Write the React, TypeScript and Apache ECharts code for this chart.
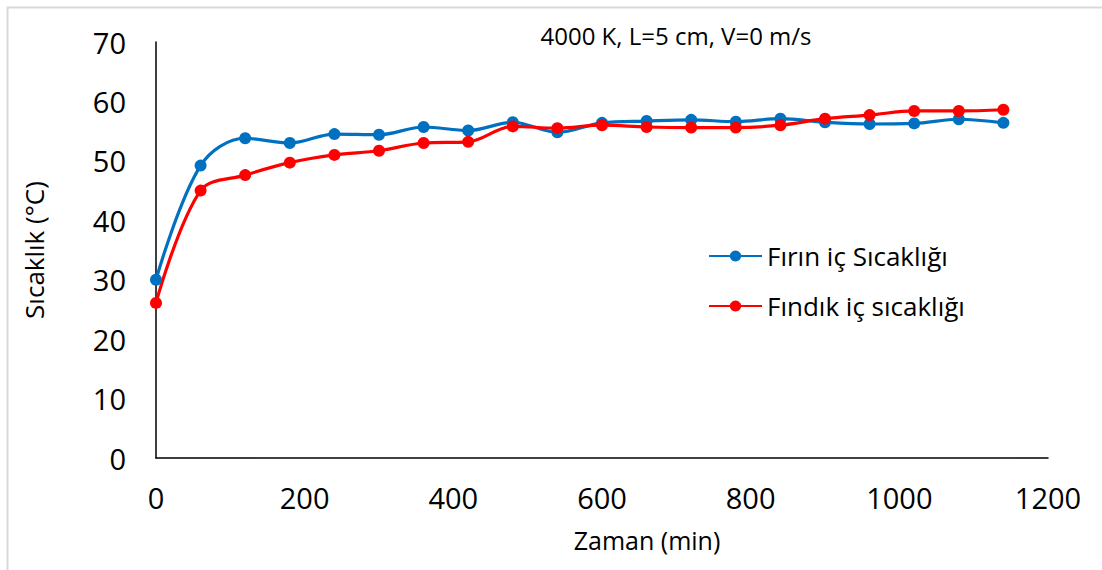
import React, { useEffect, useRef } from "react";
import * as echarts from "echarts";

// Time in minutes
const times = [0, 60, 120, 180, 240, 300, 360, 420, 480, 540, 600, 660, 720, 780, 840, 900, 960, 1020, 1080, 1140];

// Oven inner temperature (°C)
const firinIc = [30.0, 49.2, 53.8, 53.0, 54.5, 54.4, 55.7, 55.1, 56.5, 54.8, 56.4, 56.7, 56.9, 56.6, 57.1, 56.5, 56.2, 56.3, 57.0, 56.4];

// Hazelnut inner temperature (°C)
const findikIc = [26.1, 45.0, 47.6, 49.7, 51.0, 51.7, 53.0, 53.2, 55.8, 55.5, 56.0, 55.7, 55.6, 55.6, 56.0, 57.1, 57.7, 58.4, 58.4, 58.6];

const seriesNames = ["Fırın iç Sıcaklığı", "Fındık iç sıcaklığı"];
const seriesColors = ["#0070C0", "#FF0000"];

const chartTitle = "4000 K, L=5 cm, V=0 m/s";
const xTitle = "Zaman (min)";
const yTitle = "Sıcaklık (°C)";

const FONT = "'Open Sans', 'Noto Sans', sans-serif";

export default function App() {
  const ref = useRef<HTMLDivElement>(null);

  useEffect(() => {
    if (!ref.current) return;
    const chart = echarts.init(ref.current, undefined, { renderer: "svg" });
    const pair = (ys: number[]) => times.map((t, i) => [t, ys[i]]);
    const mkSeries = (idx: number, ys: number[]) => ({
      name: seriesNames[idx],
      type: "line",
      data: pair(ys),
      smooth: 0.35,
      symbol: "circle",
      symbolSize: 12,
      lineStyle: { color: seriesColors[idx], width: 3.2 },
      itemStyle: { color: seriesColors[idx] },
    });

    chart.setOption({
      animation: false,
      backgroundColor: "#ffffff",
      textStyle: { fontFamily: FONT },
      title: {
        text: chartTitle,
        left: 671,
        top: 18,
        textAlign: "center",
        textStyle: { fontFamily: FONT, fontSize: 24, fontWeight: "normal", color: "#000" },
      },
      grid: { left: 156, right: 54, top: 42, bottom: 112, containLabel: false },
      legend: {
        orient: "vertical",
        left: 703,
        top: 235,
        itemWidth: 53,
        itemHeight: 14,
        itemGap: 18,
        textStyle: { fontFamily: FONT, fontSize: 26, color: "#000", lineHeight: 32 },
        data: seriesNames,
      },
      xAxis: {
        type: "value",
        min: 0,
        max: 1200,
        interval: 200,
        axisLine: { show: true, lineStyle: { color: "#000", width: 1.5 } },
        axisTick: { show: false },
        splitLine: { show: false },
        axisLabel: {
          color: "#000",
          fontSize: 29,
          fontFamily: FONT,
          margin: 25,
          formatter: (v: number) => String(v),
        },
      },
      yAxis: {
        type: "value",
        min: 0,
        max: 70,
        interval: 10,
        name: yTitle,
        nameLocation: "middle",
        nameRotate: 90,
        nameGap: 109,
        nameTextStyle: { color: "#000", fontSize: 26, fontFamily: FONT },
        axisLine: { show: true, lineStyle: { color: "#000", width: 1.5 } },
        axisTick: { show: false },
        splitLine: { show: false },
        axisLabel: { color: "#000", fontSize: 29, fontFamily: FONT, margin: 30 },
      },
      graphic: [
        {
          type: "rect",
          shape: { x: 7.5, y: 7.5, width: 1200, height: 700 },
          style: { fill: "none", stroke: "#d9d9d9", lineWidth: 2 },
          silent: true,
        },
        {
          type: "text",
          x: 647,
          y: 540,
          style: {
            text: xTitle,
            fontFamily: FONT,
            fontSize: 25,
            fill: "#000",
            textAlign: "center",
            textVerticalAlign: "middle",
          },
        },
      ],
      series: [mkSeries(0, firinIc), mkSeries(1, findikIc)],
    });

    return () => chart.dispose();
  }, []);

  return (
    <div
      ref={ref}
      style={{ position: "absolute", left: 0, top: 0, width: 1102, height: 570 }}
    />
  );
}
